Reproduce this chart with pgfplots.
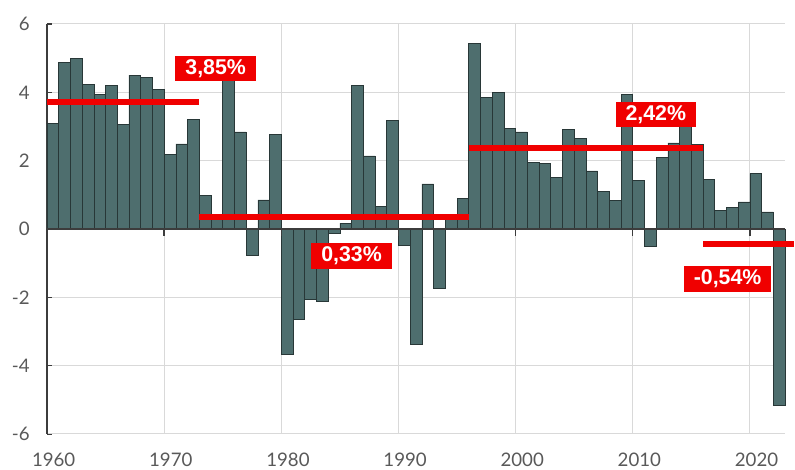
\documentclass[border=0pt]{standalone}
\usepackage{fontspec}
\setmainfont{Lato}
\newfontfamily\labelfont{Liberation Sans}
\usepackage{pgfplots}
\pgfplotsset{compat=1.18}
\usepackage{pgfplotstable}
\definecolor{barfill}{RGB}{78,110,110}
\definecolor{baredge}{RGB}{40,55,55}
\definecolor{gridgray}{RGB}{217,217,217}
\definecolor{tickgray}{RGB}{89,89,89}
\definecolor{axred}{RGB}{240,0,0}
\definecolor{axdark}{RGB}{60,60,60}

\pgfplotstableread{
year val
1960 3.08
1961 4.87
1962 4.99
1963 4.24
1964 3.93
1965 4.21
1966 3.06
1967 4.50
1968 4.43
1969 4.09
1970 2.18
1971 2.49
1972 3.21
1973 0.98
1974 0.35
1975 4.39
1976 2.84
1977 -0.78
1978 0.85
1979 2.77
1980 -3.68
1981 -2.64
1982 -2.07
1983 -2.13
1984 -0.12
1985 0.17
1986 4.19
1987 2.14
1988 0.65
1989 3.18
1990 -0.49
1991 -3.39
1992 1.32
1993 -1.75
1994 0.30
1995 0.90
1996 5.42
1997 3.86
1998 3.99
1999 2.94
2000 2.84
2001 1.94
2002 1.92
2003 1.52
2004 2.92
2005 2.65
2006 1.70
2007 1.10
2008 0.83
2009 3.93
2010 1.41
2011 -0.52
2012 2.10
2013 2.52
2014 3.00
2015 2.48
2016 1.44
2017 0.55
2018 0.62
2019 0.79
2020 1.63
2021 0.50
2022 -5.16
}\growth

\begin{document}
\begin{tikzpicture}
\path[use as bounding box] (-35.25pt,-27pt) rectangle (561pt,325.5pt);
\begin{axis}[
  at={(0pt,0pt)}, anchor=south west,
  width=553.5pt, height=307.5pt, scale only axis,
  xmin=1960, xmax=2023, ymin=-6, ymax=6,
  clip=false,
  axis y line*=left, axis x line*=bottom,
  x axis line style={draw=gridgray, line width=0.75pt},
  y axis line style={draw=axdark, line width=1.5pt},
  xtick={1960,1970,...,2020}, ytick={-6,-4,...,6},
  grid=major, major grid style={draw=gridgray, line width=0.75pt},
  tick align=inside, major tick length=4pt,
  xtick style={draw=none},
  ytick style={draw=axdark, line width=1pt},
  /pgf/number format/1000 sep={},
  /pgf/number format/assume math mode=true,
  xticklabel style={font=\fontsize{14}{16}\selectfont, text=tickgray, xshift=5pt, yshift=-11pt},
  yticklabel style={font=\fontsize{14}{16}\selectfont, text=tickgray, xshift=-9.5pt},
]
\addplot[ybar, bar width=1, bar shift=0pt, fill=barfill, draw=baredge, line width=0.5pt]
  table[x expr=\thisrow{year}+0.5, y=val] {\growth};
\addplot[draw=axdark, line width=1pt] coordinates {(1960,0) (2023,0)};
\addplot[ycomb, draw=axdark, line width=1pt, no markers]
  coordinates {(1970,-0.2) (1980,-0.2) (1990,-0.2) (2000,-0.2) (2010,-0.2) (2020,-0.2)};
% period averages
\addplot[draw=axred, line width=4.5pt] coordinates {(1960,3.72) (1973,3.72)};
\addplot[draw=axred, line width=4.5pt] coordinates {(1973,0.36) (1996,0.36)};
\addplot[draw=axred, line width=4.5pt] coordinates {(1996,2.36) (2016,2.36)};
\addplot[draw=axred, line width=4.5pt] coordinates {(2016,-0.44) (2023.8,-0.44)};
\tikzset{lbl/.style={fill=axred, text=white, font=\labelfont\bfseries\fontsize{16}{18}\selectfont, inner xsep=7.5pt, inner ysep=0pt, minimum height=19pt}}
\node[lbl] at (axis cs:1974.4,4.69) {3,85\%};
\node[lbl] at (axis cs:1986.0,-0.79) {0,33\%};
\node[lbl] at (axis cs:2011.97,3.35) {2,42\%};
\node[lbl] at (axis cs:2018.1,-1.46) {-0,54\%};
\end{axis}
\end{tikzpicture}
\end{document}
